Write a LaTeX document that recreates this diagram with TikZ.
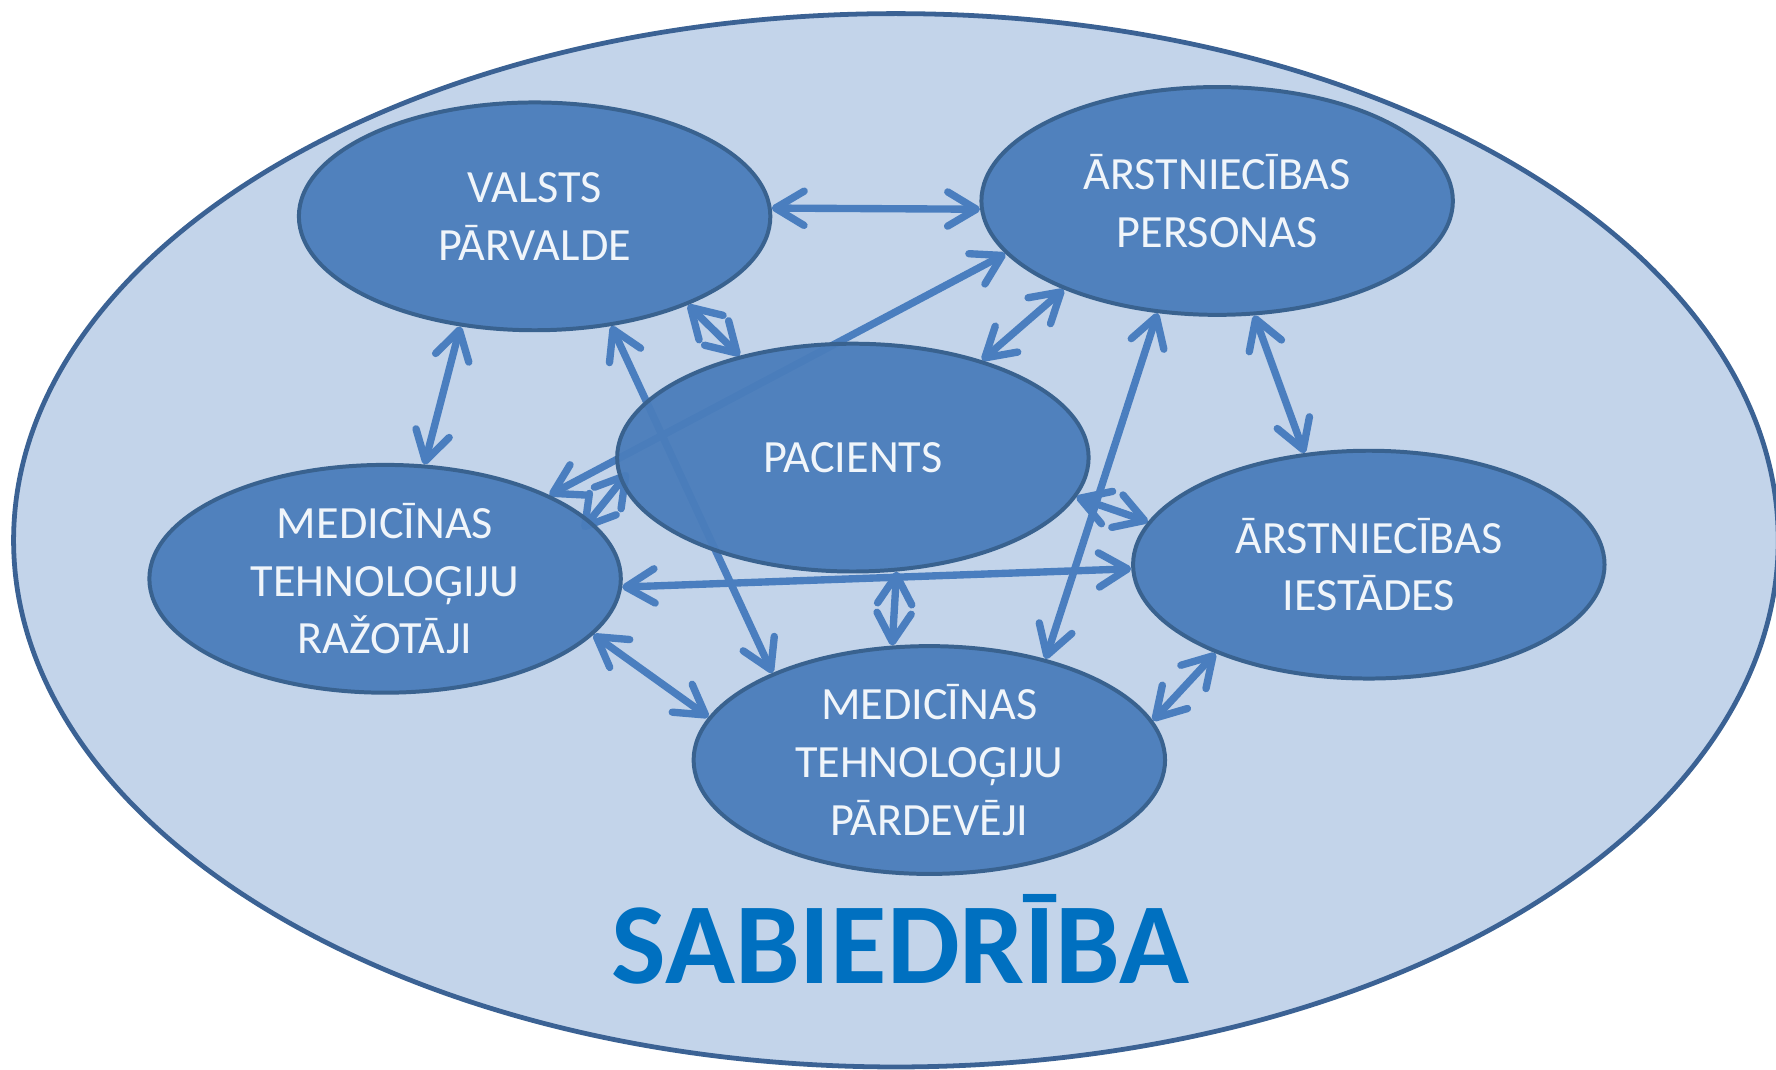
\documentclass[tikz,border=0pt]{standalone}
\usepackage{fontspec}
\newfontfamily\carlito{Carlito}
\usetikzlibrary{shapes.geometric,arrows.meta}
\definecolor{ellfill}{HTML}{4A7DBB}
\definecolor{elldraw}{HTML}{39628F}
\definecolor{socfill}{HTML}{C3D4EA}
\definecolor{socdraw}{HTML}{3B6294}
\definecolor{socword}{HTML}{0070C0}
\definecolor{linkcol}{HTML}{4A7EBF}
\pgfdeclarelayer{back}
\pgfdeclarelayer{links}
\pgfsetlayers{back,links,main}

\begin{document}
\begin{tikzpicture}[x=0.01cm,y=0.01cm,
party/.style={ellipse,draw=elldraw,line width=1pt,fill=ellfill,fill opacity=0.95,text opacity=1,
    minimum width=4.16cm,minimum height=2.01cm,inner sep=0pt,align=center,text=white!92!ellfill,
    font=\carlito\fontsize{11.6}{14.45}\selectfont},
link/.style={draw=linkcol,line width=1.85pt,
    arrows={Straight Barb[length=7.2pt,width=8.6pt,round]-Straight Barb[length=7.2pt,width=8.6pt,round]}}]
\useasboundingbox (0,0) rectangle (1568,-944);
\begin{pgfonlayer}{back}
\draw [socdraw,fill=socfill,line width=1.2pt] (791,-477) ellipse [x radius=779,y radius=465];
\end{pgfonlayer}

\node (valsts) [party] at (472,-191) {VALSTS\\P\=ARVALDE};
\node (personas) [party] at (1074.6,-177.4) {\=ARSTNIEC\=IBAS\\PERSONAS};
\node (pacients) [party] at (753,-404) {PACIENTS};
\node (razotaji) [party] at (340,-511) {MEDIC\=INAS\\TEHNOLO\c{G}IJU\\RA\v{Z}OT\=AJI};
\node (iestades) [party] at (1208.5,-498.5) {\=ARSTNIEC\=IBAS\\IEST\=ADES};
\node (pardeveji) [party] at (820.5,-671) {MEDIC\=INAS\\TEHNOLO\c{G}IJU\\P\=ARDEV\=EJI};
\node (sabiedriba) [anchor=base,text=socword,font=\carlito\bfseries\fontsize{29}{34}\selectfont] at (795,-868) {SABIEDR\=IBA};

\begin{pgfonlayer}{links}
\draw [link] (valsts.2) -- (personas.182);
\draw [link] (valsts.236.8) -- (razotaji.71.8);
\draw [link] (valsts.330) -- (pacients.138.8);
\draw [link] (valsts.305) -- (pardeveji.151.9);
\draw [link] (personas.194.7) -- (razotaji.27.9);
\draw [link] (personas.210.2) -- (pacients.37);
\draw [link] (personas.242.1) -- (pardeveji.41.7);
\draw [link] (personas.288.1) -- (iestades.120.2);
\draw [link,shorten <=-3pt,shorten >=-3pt] (pacients.186.2) -- (razotaji.16.3);
\draw [link] (pacients.350.1) -- (iestades.169.9);
\draw [link] (pacients.291.4) -- (pardeveji.108.1);
\draw [link] (razotaji.358.9) -- (iestades.181.7);
\draw [link] (razotaji.345.2) -- (pardeveji.169.7);
\draw [link] (iestades.210.1) -- (pardeveji.10.2);
\end{pgfonlayer}
\end{tikzpicture}
\end{document}
